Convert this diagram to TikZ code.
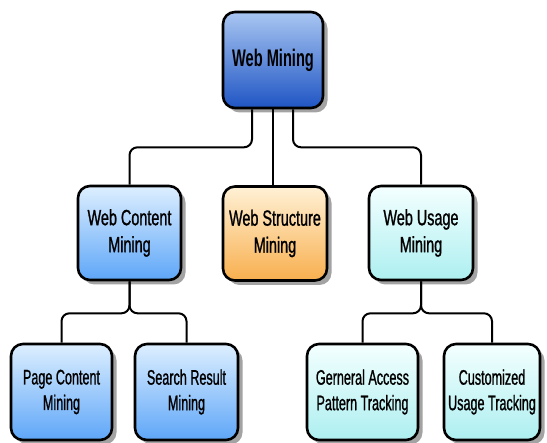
\documentclass[tikz,border=0pt]{standalone}
\usepackage{fontspec}
\setmainfont{Liberation Sans}
\newfontfamily\titlefont[FakeStretch=0.61]{Liberation Sans}
\newfontfamily\midfont[FakeStretch=0.655, FakeBold=1]{Liberation Sans}
\newfontfamily\lowfont[FakeStretch=0.60, FakeBold=1]{Liberation Sans}
\usetikzlibrary{shadows}

\definecolor{navyTop}{HTML}{A9C6F2}
\definecolor{navyBot}{HTML}{1F55C4}
\definecolor{skyTop}{HTML}{DDEFFF}
\definecolor{skyBot}{HTML}{5EA6F8}
\definecolor{sandTop}{HTML}{FFF1D6}
\definecolor{sandBot}{HTML}{F8AF4E}
\definecolor{aquaTop}{HTML}{F4FFFF}
\definecolor{aquaBot}{HTML}{ADEFF0}

\tikzset{
  x=1pt, y=-1pt,
  box/.style={draw=black, line width=2.6pt, rounded corners=12pt,
    align=center, inner sep=2pt,
    drop shadow={shadow xshift=4.5pt, shadow yshift=-4.5pt, fill=black!45, opacity=0.8}},
  topbox/.style={box, minimum width=100pt, minimum height=96pt,
    top color=navyTop, bottom color=navyBot,
    font=\titlefont\bfseries\fontsize{24}{28}\selectfont},
  midbox/.style={box, minimum width=103pt, minimum height=94pt,
    font=\midfont\fontsize{22}{27}\selectfont},
  lowbox/.style={box, minimum height=96pt,
    font=\lowfont\fontsize{21}{25.5}\selectfont},
  sky/.style={top color=skyTop, bottom color=skyBot},
  sand/.style={top color=sandTop, bottom color=sandBot},
  aqua/.style={top color=aquaTop, bottom color=aquaBot},
  link/.style={draw=black, line width=2pt, rounded corners=8pt}
}

\begin{document}
\begin{tikzpicture}
\useasboundingbox (0,0) rectangle (547,443);

% root
\node[topbox] (root) at (273,60) {Web Mining};

% second level
\node[midbox, sky]  (content)   at (129.5,233) {Web Content\\Mining};
\node[midbox, sand, minimum width=104pt] (structure) at (275,233.5) {Web Structure\\Mining};
\node[midbox, aqua, minimum width=104pt] (usage)     at (421,233) {Web Usage\\Mining};

% third level
\node[lowbox, sky, minimum width=101pt]  (page)    at (61.5,392)  {Page Content\\Mining};
\node[lowbox, sky, minimum width=103pt]  (search)  at (186.5,392) {Search Result\\Mining};
\node[lowbox, aqua, minimum width=111pt] (general) at (362.5,392) {Gerneral Access\\Pattern Tracking};
\node[lowbox, aqua, minimum width=96pt]  (custom)  at (492,392)   {Customized\\Usage Tracking};

% connectors from the root
\draw[link] ([xshift=-21pt]root.south) -- ++(0,38) -| (content.north);
\draw[link] (root.south) -- (root.south |- structure.north);
\draw[link] ([xshift=20pt]root.south) -- ++(0,38) -| (usage.north);

% forks below the second level
\draw[link] (content.south) -- ++(0,32) -| (page.north);
\draw[link] (content.south) -- ++(0,32) -| (search.north);
\draw[link] (usage.south) -- ++(0,32) -| (general.north);
\draw[link] (usage.south) -- ++(0,32) -| (custom.north);
\end{tikzpicture}
\end{document}
